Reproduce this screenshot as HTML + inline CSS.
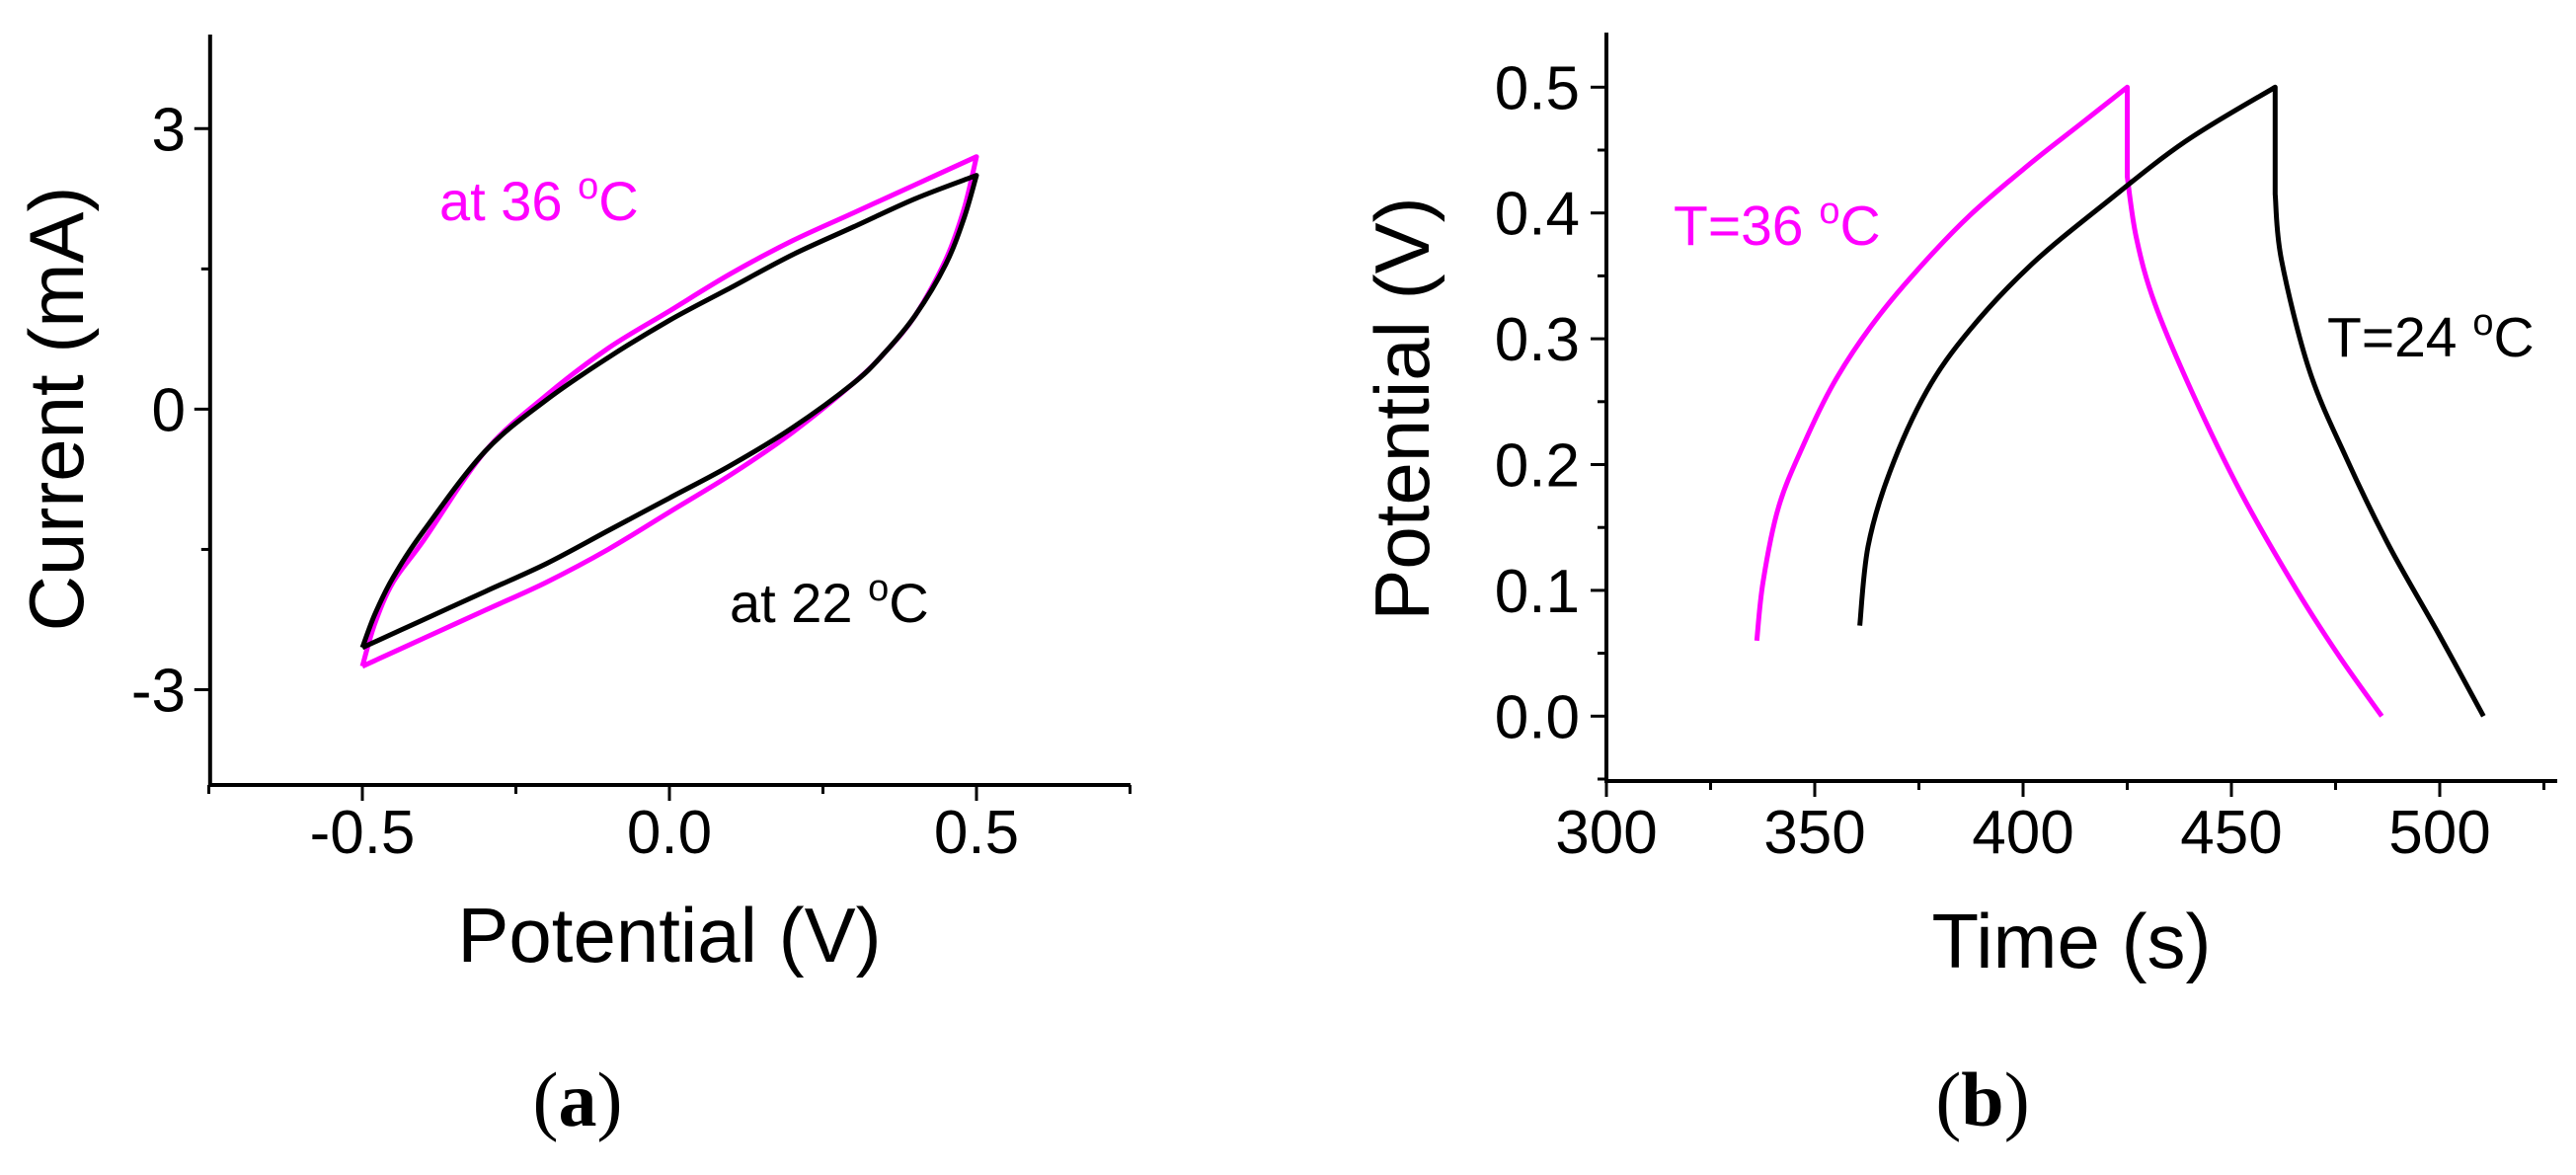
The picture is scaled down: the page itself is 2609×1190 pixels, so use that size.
<!DOCTYPE html>
<html><head><meta charset="utf-8"><style>
html,body{margin:0;padding:0;background:#fff;}
svg{display:block;font-family:"Liberation Sans",Arial,sans-serif;}
</style></head><body>
<svg id="fig" width="2609" height="1190" viewBox="0 0 2609 1190" xmlns="http://www.w3.org/2000/svg">
<g id="pa"></g>
<g id="pb"></g>
<text x="585" y="1140" text-anchor="middle" font-family="Liberation Serif,serif" font-size="78">(<tspan font-weight="bold">a</tspan>)</text>
<text x="2008" y="1140" text-anchor="middle" font-family="Liberation Serif,serif" font-size="78">(<tspan font-weight="bold">b</tspan>)</text>
</svg>
<script>
// Panel a data
const cvPotential = [-0.5,-0.48,-0.45,-0.4,-0.3,-0.2,-0.1,0,0.1,0.2,0.3,0.4,0.5];
const cvBlackUp = [-2.55,-2.2,-1.8,-1.3,-0.45,0.1,0.55,0.95,1.3,1.65,1.95,2.25,2.5];
const cvMagentaUp = [-2.75,-2.3,-1.85,-1.4,-0.45,0.15,0.65,1.05,1.45,1.8,2.1,2.4,2.7];
const cvRevPotential = [0.5,0.48,0.45,0.4,0.35,0.3,0.2,0.1,0,-0.1,-0.2,-0.3,-0.4,-0.5];
const cvBlackDown = [2.5,2.05,1.55,1.0,0.6,0.28,-0.2,-0.6,-0.95,-1.3,-1.65,-1.95,-2.25,-2.55];
const cvMagentaDown = [2.7,2.15,1.6,1.0,0.6,0.28,-0.25,-0.7,-1.1,-1.5,-1.85,-2.15,-2.45,-2.75];
const aXTicks = [-0.5,0,0.5];
const aXTickLabels = ["-0.5","0.0","0.5"];
const aYTicks = [-3,0,3];
const aYTickLabels = ["-3","0","3"];
// Panel b data
const gcdMagentaT = [336.1,337.6,341.3,347.2,354.6,363.5,373.9,387.2,402.0,413.9,425.0,425.0,427.2,431.6,440.5,452.4,465.7,476.0,486.1];
const gcdMagentaV = [0.060,0.107,0.166,0.215,0.265,0.310,0.352,0.398,0.440,0.471,0.500,0.429,0.380,0.328,0.258,0.177,0.100,0.047,0.0];
const gcdBlackT = [360.8,362.8,368.0,376.8,387.2,402.0,419.8,439.0,460.5,460.5,462.0,468.7,477.6,487.9,499.8,510.5];
const gcdBlackV = [0.072,0.135,0.194,0.258,0.307,0.359,0.408,0.457,0.500,0.415,0.363,0.275,0.205,0.135,0.065,0.0];
const bXTicks = [300,350,400,450,500];
const bXTickLabels = ["300","350","400","450","500"];
const bYTicks = [0,0.1,0.2,0.3,0.4,0.5];
const bYTickLabels = ["0.0","0.1","0.2","0.3","0.4","0.5"];

const NS="http://www.w3.org/2000/svg";
function mk(parent,tag,attrs,txt){const e=document.createElementNS(NS,tag);for(const k in attrs)e.setAttribute(k,attrs[k]);if(txt!==undefined)e.textContent=txt;parent.appendChild(e);return e;}

const ax=v=>678+(v)*622;
const ay=v=>414.4-v*94.7;
const bx=t=>1627+(t-300)*4.22;
const by=v=>725.3-v*1274;

function crPath(pts,first){
  let d=(first?"M":"L")+pts[0][0].toFixed(1)+","+pts[0][1].toFixed(1);
  for(let i=0;i<pts.length-1;i++){
    const p0=pts[Math.max(0,i-1)],p1=pts[i],p2=pts[i+1],p3=pts[Math.min(pts.length-1,i+2)];
    const c1=[p1[0]+(p2[0]-p0[0])/6,p1[1]+(p2[1]-p0[1])/6];
    const c2=[p2[0]-(p3[0]-p1[0])/6,p2[1]-(p3[1]-p1[1])/6];
    d+="C"+c1[0].toFixed(1)+","+c1[1].toFixed(1)+" "+c2[0].toFixed(1)+","+c2[1].toFixed(1)+" "+p2[0].toFixed(1)+","+p2[1].toFixed(1);
  }
  return d;
}
function smooth(xs,ys,fx,fy,first=true){
  const segs=[];let cur=[];
  for(let i=0;i<xs.length;i++){
    if(i>0&&xs[i]===xs[i-1]){segs.push(cur);cur=[];}
    cur.push([fx(xs[i]),fy(ys[i])]);
  }
  segs.push(cur);
  let d="";segs.forEach((s,k)=>{d+=crPath(s,first&&k===0);});
  return d;
}

const pa=document.getElementById('pa');
let e=mk(pa,'line',{x1:212.8,y1:35,x2:212.8,y2:796,stroke:'#000','stroke-width':4});

e=mk(pa,'line',{x1:211,y1:795,x2:1145,y2:795,stroke:'#000','stroke-width':4});

for(let v=-0.75;v<=0.7501;v+=0.25){
  const major=Math.abs(Math.round(v*2)-v*2)<1e-6;
  e=mk(pa,'line',{x1:ax(v),y1:795,x2:ax(v),y2:795+(major?16:9),stroke:'#000','stroke-width':3});
  
}
aXTicks.forEach((v,i)=>{e=mk(pa,'text',{x:ax(v),y:864,'text-anchor':'middle','font-size':62},aXTickLabels[i]);
  });
for(let v=-4.5;v<=4.01;v+=1.5){ if(ay(v)<35||ay(v)>796) continue;
  const major=Math.abs(v%3)<1e-6;
  e=mk(pa,'line',{x1:212.8,y1:ay(v),x2:212.8-(major?16:9),y2:ay(v),stroke:'#000','stroke-width':3});
  
}
aYTicks.forEach((v,i)=>{e=mk(pa,'text',{x:188,y:ay(v)+22,'text-anchor':'end','font-size':62},aYTickLabels[i]);
  });
e=mk(pa,'text',{x:678,y:974,'text-anchor':'middle','font-size':78},'Potential (V)');

e=mk(pa,'text',{x:0,y:0,'text-anchor':'middle','font-size':78,transform:'translate(84,414) rotate(-90)'},'Current (mA)');

e=mk(pa,'path',{d:smooth(cvPotential,cvMagentaUp,ax,ay)+smooth(cvRevPotential,cvMagentaDown,ax,ay,false),fill:'none',stroke:'#ff00ff','stroke-width':5,'stroke-linejoin':'round'});

e=mk(pa,'path',{d:smooth(cvPotential,cvBlackUp,ax,ay)+smooth(cvRevPotential,cvBlackDown,ax,ay,false),fill:'none',stroke:'#000','stroke-width':5,'stroke-linejoin':'round'});

e=mk(pa,'text',{x:445,y:223,'font-size':56,fill:'#ff00ff'});
e.innerHTML='at 36 <tspan dy="-22" font-size="38">o</tspan><tspan dy="22">C</tspan>';

e=mk(pa,'text',{x:739,y:630,'font-size':56,fill:'#000'});
e.innerHTML='at 22 <tspan dy="-22" font-size="38">o</tspan><tspan dy="22">C</tspan>';


const pb=document.getElementById('pb');
e=mk(pb,'line',{x1:1627,y1:33,x2:1627,y2:792,stroke:'#000','stroke-width':4});

e=mk(pb,'line',{x1:1625,y1:791,x2:2590,y2:791,stroke:'#000','stroke-width':4});

for(let t=300;t<=525;t+=25){
  const major=t%50===0;
  e=mk(pb,'line',{x1:bx(t),y1:791,x2:bx(t),y2:791+(major?16:9),stroke:'#000','stroke-width':3});
  
}
bXTicks.forEach((v,i)=>{e=mk(pb,'text',{x:bx(v),y:864,'text-anchor':'middle','font-size':62},bXTickLabels[i]);
  });
for(let k=-1;k<=10;k++){const v=k*0.05;
  const major=k%2===0;
  e=mk(pb,'line',{x1:1627,y1:by(v),x2:1627-(major?16:9),y2:by(v),stroke:'#000','stroke-width':3});
  
}
bYTicks.forEach((v,i)=>{e=mk(pb,'text',{x:1600,y:by(v)+22,'text-anchor':'end','font-size':62},bYTickLabels[i]);
  });
e=mk(pb,'text',{x:2098,y:980,'text-anchor':'middle','font-size':78},'Time (s)');

e=mk(pb,'text',{x:0,y:0,'text-anchor':'middle','font-size':78,transform:'translate(1447,414) rotate(-90)'},'Potential (V)');

e=mk(pb,'path',{d:smooth(gcdMagentaT,gcdMagentaV,bx,by),fill:'none',stroke:'#ff00ff','stroke-width':5,'stroke-linejoin':'round'});

e=mk(pb,'path',{d:smooth(gcdBlackT,gcdBlackV,bx,by),fill:'none',stroke:'#000','stroke-width':5,'stroke-linejoin':'round'});

e=mk(pb,'text',{x:1695,y:248,'font-size':57,fill:'#ff00ff'});
e.innerHTML='T=36 <tspan dy="-22" font-size="38">o</tspan><tspan dy="22">C</tspan>';

e=mk(pb,'text',{x:2357,y:361,'font-size':57,fill:'#000'});
e.innerHTML='T=24 <tspan dy="-22" font-size="38">o</tspan><tspan dy="22">C</tspan>';

</script>
</body></html>
